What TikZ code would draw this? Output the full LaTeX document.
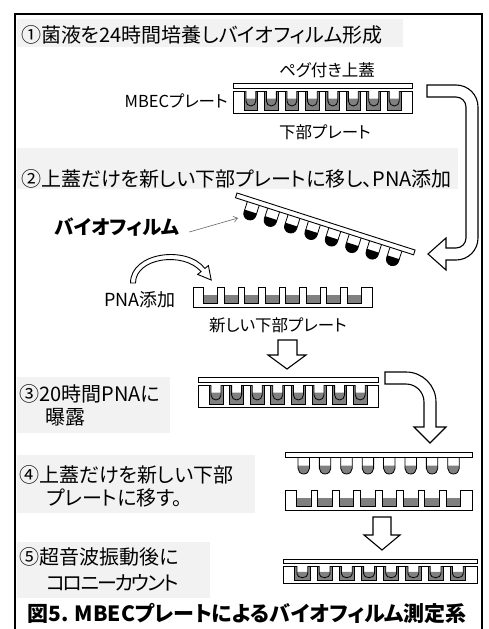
\documentclass[tikz,border=0pt]{standalone}
\usepackage{fontspec}
\setmainfont{Noto Sans CJK JP}[RawFeature=+palt]
\usepackage{tikz}
\usetikzlibrary{arrows.meta}

\definecolor{boxgray}{HTML}{F2F2F2}
\definecolor{liquid}{HTML}{808080}

\tikzset{
  plate/.style={draw=black, fill=white, line width=0.9pt},
  welldark/.style={draw=black, fill=liquid, line width=0.8pt},
  pegline/.style={draw=black, line width=0.8pt},
  blockarrow/.style={draw=black, fill=white, line width=1.1pt, line join=miter},
  stepbox/.style={fill=boxgray},
  steptext/.style={anchor=west, inner sep=0pt, font=\fontsize{20}{24}\selectfont},
  platetext/.style={inner sep=0pt, font=\fontsize{16.5}{19}\selectfont},
  pointer/.style={-{Straight Barb[length=4pt,width=6pt]}, draw=black!60, line width=0.6pt},
}

% half width of a peg
\newcommand{\pegr}{5}

% one peg: centre x, top y, length, colour of the tip
\newcommand{\peg}[4]{%
  \fill[white] (#1-\pegr,#2) -- (#1-\pegr,#2+#3-\pegr) .. controls (#1-\pegr,#2+#3-0.45*\pegr) and (#1-0.55*\pegr,#2+#3) .. (#1,#2+#3) .. controls (#1+0.55*\pegr,#2+#3) and (#1+\pegr,#2+#3-0.45*\pegr) .. (#1+\pegr,#2+#3-\pegr) -- (#1+\pegr,#2) -- cycle;
  \fill[#4] (#1-\pegr,#2+0.5*#3) -- (#1-\pegr,#2+#3-\pegr) .. controls (#1-\pegr,#2+#3-0.45*\pegr) and (#1-0.55*\pegr,#2+#3) .. (#1,#2+#3) .. controls (#1+0.55*\pegr,#2+#3) and (#1+\pegr,#2+#3-0.45*\pegr) .. (#1+\pegr,#2+#3-\pegr) -- (#1+\pegr,#2+0.5*#3) -- cycle;
  \draw[pegline] (#1-\pegr,#2) -- (#1-\pegr,#2+#3-\pegr) .. controls (#1-\pegr,#2+#3-0.45*\pegr) and (#1-0.55*\pegr,#2+#3) .. (#1,#2+#3) .. controls (#1+0.55*\pegr,#2+#3) and (#1+\pegr,#2+#3-0.45*\pegr) .. (#1+\pegr,#2+#3-\pegr) -- (#1+\pegr,#2);
}

% lid on top of a plate, pegs sitting in the wells
\newcommand{\fullplate}{%
  \draw[plate] (0,0) rectangle (180,22);
  \foreach \i in {0,...,7} {
    \pgfmathsetmacro{\cx}{18+20.6*\i}
    \draw[welldark] (\cx-7,0) rectangle (\cx+7,19);
    \peg{\cx}{0}{15}{liquid}
  }
  \draw[plate] (0,-8) rectangle (180,-3);
}

% plate with open wells, medium in the bottom
\newcommand{\emptyplate}{%
  \foreach \i in {0,...,7} {
    \pgfmathsetmacro{\cx}{18+20.6*\i}
    \fill[liquid] (\cx-7,8) rectangle (\cx+7,16);
  }
  \draw[plate] (0,0) \foreach \i in {0,...,7} { -- ({18+20.6*\i-7},0) -- ({18+20.6*\i-7},16) -- ({18+20.6*\i+7},16) -- ({18+20.6*\i+7},0) } -- (180,0) -- (180,20) -- (0,20) -- cycle;
}

% lid lifted off, pegs hanging down
\newcommand{\peglid}[1]{%
  \foreach \i in {0,...,7} {
    \pgfmathsetmacro{\cx}{18+20.6*\i}
    \peg{\cx}{5}{17}{#1}
  }
  \draw[plate] (0,0) rectangle (180,5);
}

\begin{document}
\begin{tikzpicture}[x=1pt, y=-1pt]
  \useasboundingbox (0,0) rectangle (489,629);

  % outer frame
  \draw[line width=2pt] (15,629) -- (15,14) -- (482,14) -- (482,629);

  % step 1
  \fill[stepbox] (17,19) rectangle (403,47);
  \node[steptext] (step1) at (21,35) {①菌液を24時間培養しバイオフィルム形成};
  \node[platetext] (lidlabel) at (327,70) {ペグ付き上蓋};
  \node[platetext, anchor=east] (mbec) at (228,101) {MBECプレート};
  \node[platetext] (lowerlabel) at (325,132) {下部プレート};
  \begin{scope}[shift={(233,91)}, xscale=179/180]
    \fullplate
  \end{scope}

  % arrow from step 1 down to step 2
  \draw[blockarrow] (427,85) -- (456,85) .. controls (468.2,85) and (478,94.8) .. (478,107)
    -- (478,238) .. controls (478,250.2) and (468.2,260) .. (456,260) -- (446,260)
    -- (446,270) -- (428,254) -- (446,238) -- (446,248) -- (456,248)
    .. controls (461.5,248) and (466,243.5) .. (466,238) -- (466,107)
    .. controls (466,101.5) and (461.5,97) .. (456,97) -- (427,97) -- cycle;

  % step 2
  \fill[stepbox] (17,148) rectangle (458,189);
  \node[steptext] (step2) at (21,179) {②上蓋だけを新しい下部プレートに移し、PNA添加};
  \begin{scope}[shift={(237,193)}, rotate=-17.76, xscale=187/180]
    \renewcommand{\pegr}{6}
    \peglid{black}
  \end{scope}
  \node[font=\bfseries\fontsize{19.5}{22}\selectfont, inner sep=0pt] (biofilm) at (117,227) {バイオフィルム};
  \coordinate (biotip) at (238,218);
  \draw[pointer] ([shift={(10,5)}]biofilm.east) -- (biotip);

  % adding PNA to the new plate
  \node[font=\fontsize{18}{21}\selectfont, inner sep=0pt] (pna) at (140,300) {PNA添加};
  \draw[blockarrow, line width=0.9pt] (130.5,283) .. controls (130.5,252) and (187,245) .. (204.9,268.4)
    -- (208.4,265.6) -- (211.2,280) -- (197.6,274.4) -- (201.1,271.6)
    .. controls (183,251) and (135.5,258) .. (135.5,283) -- cycle;
  \begin{scope}[shift={(193,287)}, xscale=179/180]
    \emptyplate
  \end{scope}
  \node[platetext] (newlabel) at (278,325) {新しい下部プレート};

  % down arrow onto step 3
  \draw[blockarrow] (278,340) -- (297,340) -- (297,355) -- (306,355) -- (287,369)
    -- (268,355) -- (278,355) -- cycle;

  % step 3
  \fill[stepbox] (17,377) rectangle (170,433);
  \node[steptext] (step3a) at (19,394) {③20時間PNAに};
  \node[steptext] (step3b) at (45,417) {曝露};
  \begin{scope}[shift={(198,385)}]
    \fullplate
  \end{scope}

  % arrow from step 3 to step 4
  \draw[blockarrow] (385,372) -- (406,372) .. controls (422.6,372) and (436,385.4) .. (436,402)
    -- (436,427) -- (446,427) -- (430,443) -- (414,427) -- (424,427) -- (424,402)
    .. controls (424,392.1) and (415.9,384) .. (406,384) -- (385,384) -- cycle;

  % step 4
  \fill[stepbox] (17,455) rectangle (255,513);
  \node[steptext] (step4a) at (19,475) {④上蓋だけを新しい下部};
  \node[steptext] (step4b) at (46,498) {プレートに移す。};
  \begin{scope}[shift={(285,452)}, xscale=187/180]
    \renewcommand{\pegr}{5.5}
    \peglid{liquid}
  \end{scope}
  \begin{scope}[shift={(285,490)}, xscale=187/180]
    \emptyplate
  \end{scope}

  % down arrow onto step 5
  \draw[blockarrow] (373,517) -- (391,517) -- (391,535) -- (400,535) -- (382,550)
    -- (364,535) -- (373,535) -- cycle;

  % step 5
  \fill[stepbox] (17,542) rectangle (210,598);
  \node[steptext] (step5a) at (19,557) {⑤超音波振動後に};
  \node[steptext] (step5b) at (46,583) {\addfontfeature{LetterSpace=-10}コロニーカウント};
  \begin{scope}[shift={(283,566)}, xscale=194/180, yscale=0.78]
    \fullplate
  \end{scope}

  % caption
  \node[font=\bfseries\fontsize{21}{25}\selectfont, inner sep=0pt] (caption) at (247,613) {図5. MBECプレートによるバイオフィルム測定系};
\end{tikzpicture}
\end{document}
